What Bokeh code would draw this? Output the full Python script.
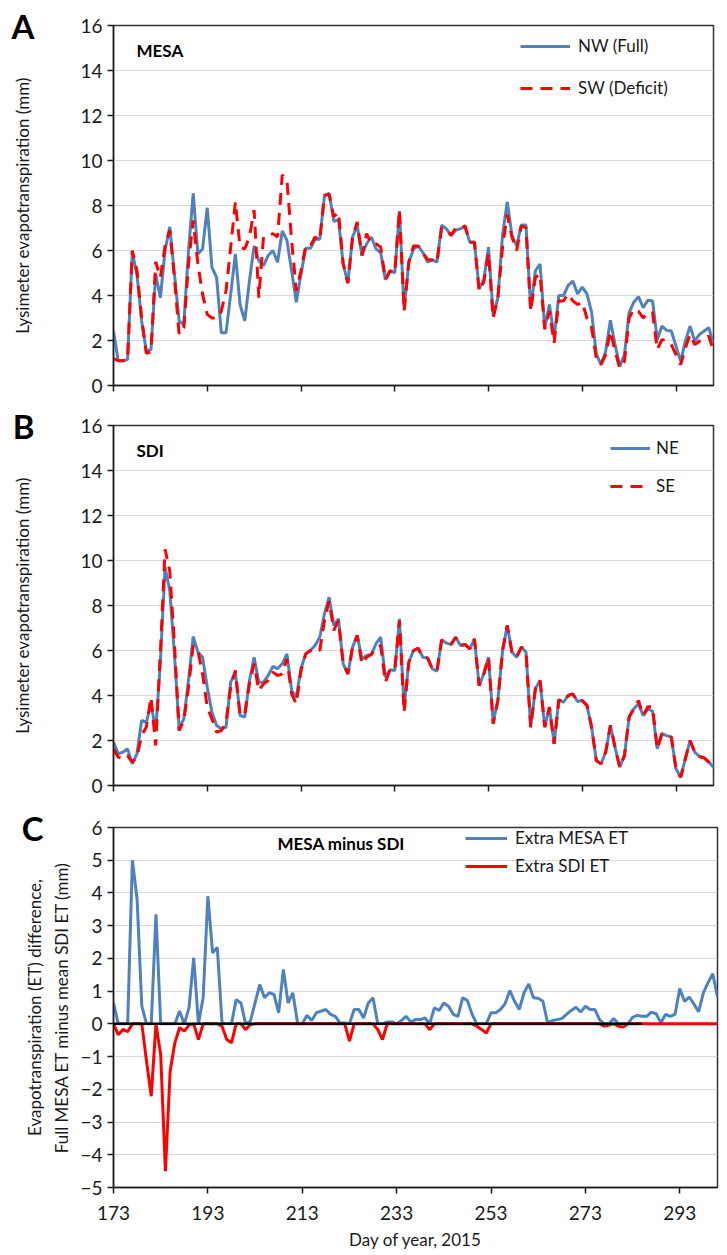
from bokeh.plotting import figure
from bokeh.models import Legend, LegendItem, Label, FixedTicker, Range1d, LinearAxis
from bokeh.layouts import column
from bokeh.embed import file_html
from bokeh.resources import INLINE

# ---------------- data ----------------
days = list(range(173, 302))          # day of year 2015
x_ticks = [173, 193, 213, 233, 253, 273, 293]
et_ticks = [0, 2, 4, 6, 8, 10, 12, 14, 16]
diff_ticks = [-5, -4, -3, -2, -1, 0, 1, 2, 3, 4, 5, 6]
zero_line_end = 285

mesa_nw_full = [
    2.42, 1.1, 1.1, 1.15, 5.9, 4.95, 2.87, 1.52, 1.6, 4.95,
    3.9, 6.0, 7.05, 4.95, 2.87, 2.7, 6.0, 8.54, 5.85, 6.07,
    7.9, 5.25, 4.8, 2.34, 2.34, 4.06, 5.85, 3.6, 2.87, 4.65,
    6.2, 5.55, 5.33, 5.78, 6.0, 5.48, 6.87, 6.45, 5.1, 3.7,
    4.95, 6.1, 6.1, 6.5, 6.5, 8.4, 8.55, 7.3, 7.36, 5.4,
    4.55, 6.6, 7.12, 5.78, 6.3, 6.6, 6.07, 5.9, 4.7, 5.1,
    5.0, 7.75, 3.4, 5.48, 6.07, 6.2, 5.9, 5.48, 5.58, 5.48,
    7.12, 6.97, 6.67, 6.9, 6.97, 7.05, 6.37, 6.37, 4.3, 4.7,
    6.15, 3.1, 3.9, 6.7, 8.16, 6.67, 6.2, 7.13, 7.13, 3.4,
    5.1, 5.4, 2.57, 3.6, 2.12, 4.0, 4.0, 4.45, 4.64, 4.07,
    4.37, 4.07, 3.25, 1.39, 0.93, 1.52, 2.9, 1.82, 0.85, 1.37,
    3.25, 3.7, 3.95, 3.46, 3.79, 3.76, 2.04, 2.64, 2.45, 2.42,
    1.75, 1.07, 1.97, 2.64, 1.97, 2.27, 2.42, 2.57, 1.82,
]
mesa_sw_deficit = [
    1.2, 1.1, 1.1, 1.15, 6.0, 5.1, 3.0, 1.43, 1.5, 5.5,
    4.8, 6.2, 6.9, 4.8, 2.27, 2.57, 5.4, 7.34, 5.4, 4.06,
    3.16, 3.0, 3.0, 3.3, 4.2, 6.15, 8.16, 6.15, 6.07, 6.6,
    7.8, 3.9, 6.6, 6.67, 6.75, 6.6, 9.36, 9.13, 6.45, 4.2,
    5.1, 6.2, 6.2, 6.6, 6.45, 8.46, 8.5, 7.5, 7.7, 5.4,
    4.55, 6.6, 7.27, 5.78, 6.75, 6.3, 6.3, 6.15, 4.7, 5.1,
    5.0, 7.8, 3.3, 5.48, 6.2, 6.2, 5.9, 5.6, 5.58, 5.48,
    7.0, 6.97, 6.67, 7.0, 6.97, 7.1, 6.37, 6.37, 4.2, 4.6,
    5.9, 3.0, 3.9, 6.15, 7.6, 6.6, 6.0, 7.1, 7.0, 3.3,
    4.8, 4.95, 2.5, 3.3, 1.9, 3.76, 3.76, 4.06, 3.76, 3.6,
    3.7, 3.0, 2.57, 1.22, 0.93, 1.37, 2.42, 1.52, 0.78, 1.07,
    3.0, 3.4, 3.3, 3.0, 3.25, 3.25, 1.6, 2.04, 2.0, 1.82,
    1.37, 0.93, 1.67, 2.27, 1.82, 1.97, 2.04, 2.2, 1.52,
]
sdi_ne = [
    1.93, 1.41, 1.48, 1.63, 0.96, 1.41, 2.89, 2.81, 3.63, 2.44,
    5.5, 9.7, 8.67, 5.85, 2.52, 2.96, 4.67, 6.62, 5.93, 5.7,
    4.37, 3.26, 2.67, 2.52, 2.59, 4.59, 5.04, 3.11, 3.04, 4.67,
    5.7, 4.59, 4.59, 4.89, 5.29, 5.19, 5.41, 5.85, 4.22, 3.93,
    5.2, 5.85, 6.0, 6.22, 6.59, 7.63, 8.37, 7.11, 7.41, 5.41,
    4.96, 6.15, 6.67, 5.63, 5.78, 5.82, 6.3, 6.59, 4.81, 5.14,
    5.11, 7.41, 3.48, 5.48, 6.0, 6.1, 5.7, 5.67, 5.19, 5.08,
    6.47, 6.33, 6.27, 6.59, 6.22, 6.27, 6.07, 6.52, 4.44, 4.96,
    5.7, 2.81, 3.78, 6.0, 7.11, 5.93, 5.7, 6.15, 5.93, 2.59,
    4.3, 4.67, 2.59, 3.48, 1.85, 3.81, 3.7, 4.0, 4.07, 3.73,
    3.78, 3.56, 2.59, 1.11, 0.96, 1.48, 2.67, 1.7, 0.81, 1.33,
    3.04, 3.41, 3.63, 3.11, 3.41, 3.3, 1.63, 2.3, 2.22, 2.15,
    0.74, 0.37, 1.19, 2.0, 1.48, 1.29, 1.23, 1.04, 0.81,
]
sdi_se = [
    1.63, 1.26, 1.19, 1.33, 1.04, 1.26, 2.22, 2.6, 3.93, 1.78,
    5.9, 10.5, 9.55, 6.3, 2.44, 2.89, 4.37, 6.22, 6.0, 4.96,
    3.48, 2.96, 2.37, 2.44, 2.81, 4.37, 5.11, 3.11, 3.19, 4.52,
    5.41, 4.22, 4.52, 4.67, 5.04, 4.89, 4.96, 5.63, 4.07, 3.63,
    5.11, 5.85, 6.0, 6.07, 6.0, 7.33, 8.2, 6.89, 7.33, 5.41,
    4.96, 6.15, 6.67, 5.41, 5.7, 5.82, 6.15, 6.22, 4.59, 5.14,
    5.11, 7.33, 3.26, 5.48, 6.0, 6.1, 5.7, 5.67, 5.19, 5.08,
    6.47, 6.33, 6.27, 6.59, 6.22, 6.27, 6.07, 6.52, 4.44, 4.96,
    5.7, 2.74, 3.78, 6.0, 7.11, 5.93, 5.7, 6.15, 5.93, 2.59,
    4.3, 4.67, 2.59, 3.48, 1.85, 3.81, 3.7, 4.0, 4.07, 3.73,
    3.78, 3.56, 2.59, 1.11, 0.96, 1.48, 2.67, 1.7, 0.81, 1.33,
    3.04, 3.41, 3.78, 3.11, 3.5, 3.5, 1.63, 2.3, 2.22, 2.15,
    0.74, 0.37, 1.19, 2.0, 1.48, 1.29, 1.23, 1.04, 0.81,
]
extra_mesa_et = [
    0.64, 0, 0, 0, 5.0, 3.8, 0.54, 0, 0, 3.35,
    0, 0, 0, 0, 0.39, 0, 0.49, 2.02, 0, 0.8,
    3.9, 2.17, 2.33, 0.03, 0, 0, 0.74, 0.64, 0, 0.08,
    0.64, 1.2, 0.8, 0.95, 0.9, 0.34, 1.66, 0.64, 0.95, 0.03,
    0, 0.26, 0.1, 0.34, 0.39, 0.44, 0.29, 0.23, 0.03, 0.03,
    0, 0.44, 0.44, 0.18, 0.64, 0.8, 0, 0, 0.06, 0.06,
    0, 0.1, 0.23, 0.06, 0.13, 0.13, 0.18, 0, 0.49, 0.41,
    0.64, 0.54, 0.29, 0.23, 0.8, 0.71, 0.29, 0, 0, 0,
    0.34, 0.34, 0.44, 0.62, 1.02, 0.69, 0.44, 0.95, 1.22, 0.8,
    0.78, 0.69, 0.03, 0.1, 0.13, 0.16, 0.29, 0.41, 0.51, 0.36,
    0.54, 0.44, 0.44, 0.13, 0, 0, 0.16, 0, 0, 0,
    0.2, 0.26, 0.23, 0.23, 0.36, 0.31, 0.03, 0.29, 0.23, 0.29,
    1.08, 0.69, 0.82, 0.61, 0.37, 0.95, 1.26, 1.53, 0.82,
]
extra_sdi_et = [
    0, -0.33, -0.17, -0.24, 0, 0, 0, -1.14, -2.21, 0,
    -0.94, -4.5, -1.45, -0.58, -0.12, -0.22, -0.04, 0, -0.48, 0,
    0, 0, 0, -0.07, -0.48, -0.58, 0, 0, -0.17, -0.02,
    0, 0, 0, 0, 0, 0, 0, 0, 0, 0,
    0, 0, 0, 0, 0, 0, 0, 0, 0, 0,
    -0.53, 0, 0, 0, 0, 0, -0.17, -0.48, 0, 0,
    0, 0, 0, 0, 0, 0, 0, -0.17, 0, 0,
    0, 0, 0, 0, 0, 0, 0, -0.07, -0.17, -0.28,
    0, 0, 0, 0, 0, 0, 0, 0, 0, 0,
    0, 0, 0, 0, 0, 0, 0, 0, 0, 0,
    0, 0, 0, 0, -0.07, -0.04, 0, -0.07, -0.1, 0,
    0, 0, 0, 0, 0, 0, 0, 0, 0, 0,
    0, 0, 0, 0, 0, 0, 0, 0, 0,
]

# ---------------- style ----------------
FONT = "Lato"
TXT = "#1a1a1a"
BLUE = "#4f81bd"
RED = "#ff0000"


def base_fig(frame_w, frame_h, left, right, top, bottom, y0, y1, yticks, show_x_labels):
    p = figure(frame_width=frame_w, frame_height=frame_h,
               min_border_left=left, min_border_right=right,
               min_border_top=top, min_border_bottom=bottom,
               x_range=Range1d(173, 301), y_range=Range1d(y0, y1),
               output_backend="svg", toolbar_location=None, tools="")
    p.background_fill_color = "white"
    p.border_fill_color = "white"
    p.outline_line_color = "#333333"
    p.outline_line_width = 1.5
    p.xgrid.visible = False
    p.ygrid.grid_line_color = "#d9d9d9"
    p.ygrid.grid_line_width = 1.2
    for ax in (p.xaxis[0], p.yaxis[0]):
        ax.axis_line_color = TXT
        ax.axis_line_width = 1.5
        ax.major_tick_line_color = TXT
        ax.major_tick_line_width = 1.5
        ax.major_tick_in = 0
        ax.major_tick_out = 6
        ax.minor_tick_line_color = None
        ax.major_label_text_font = FONT
        ax.major_label_text_font_size = "19px"
        ax.major_label_text_color = TXT
        ax.axis_label_text_font = FONT
        ax.axis_label_text_font_style = "normal"
        ax.axis_label_text_font_size = "17px"
        ax.axis_label_text_color = TXT
    p.xaxis.ticker = FixedTicker(ticks=x_ticks)
    p.yaxis.ticker = FixedTicker(ticks=yticks)
    p.ygrid.ticker = FixedTicker(ticks=yticks)
    if not show_x_labels:
        p.xaxis.major_label_overrides = {t: "" for t in x_ticks}
        p.xaxis.major_label_text_font_size = "0px"
        p.xaxis.major_label_standoff = 0
    return p


def add_legend(p, items, vx, vy, spacing, glyph_w=40, standoff=6):
    lg = Legend(items=items, location=(vx, vy))
    lg.background_fill_alpha = 0
    lg.border_line_alpha = 0
    lg.glyph_width = glyph_w
    lg.glyph_height = 20
    lg.label_height = 20
    lg.label_standoff = standoff
    lg.spacing = spacing
    lg.padding = 0
    lg.margin = 0
    lg.label_text_font = FONT
    lg.label_text_font_size = "17px"
    lg.label_text_color = TXT
    p.add_layout(lg)


def corner_letter(p, text, standoff):
    # an extra (outermost) left axis whose only tick label is the panel letter
    p.extra_y_ranges = {"letter": Range1d(0, 1)}
    ax = LinearAxis(y_range_name="letter", ticker=FixedTicker(ticks=[1]),
                    major_label_overrides={1: text})
    ax.axis_line_color = None
    ax.major_tick_line_color = None
    ax.minor_tick_line_color = None
    ax.major_tick_in = 0
    ax.major_tick_out = 0
    ax.major_label_standoff = standoff
    ax.major_label_text_font = FONT
    ax.major_label_text_font_size = "33px"
    ax.major_label_text_font_style = "bold"
    ax.major_label_text_color = "black"
    p.add_layout(ax, "left")


def inner_label(p, text, x, y):
    p.add_layout(Label(x=x, y=y, x_units="screen", y_units="screen", text=text,
                       text_font=FONT, text_font_size="17px", text_font_style="bold",
                       text_color="black", text_align="left", text_baseline="middle"))


# ---------------- panel A ----------------
pa = base_fig(600, 360, 113, 14, 25, 20, 0, 16, et_ticks, False)
pa.yaxis[0].axis_label = "Lysimeter evapotranspiration (mm)"
pa.yaxis[0].axis_label_standoff = 44
ra1 = pa.line(days, mesa_nw_full, line_color=BLUE, line_width=3)
ra2 = pa.line(days, mesa_sw_deficit, line_color=RED, line_width=3, line_dash="12 8")
add_legend(pa, [LegendItem(label="NW (Full)", renderers=[ra1]),
                LegendItem(label="SW (Deficit)", renderers=[ra2])], 407, 287, 21,
           glyph_w=50, standoff=8)
corner_letter(pa, "A", -25)
inner_label(pa, "MESA", 23, 335)

# ---------------- panel B ----------------
pb = base_fig(600, 360, 113, 14, 20, 21, 0, 16, et_ticks, False)
pb.yaxis[0].axis_label = "Lysimeter evapotranspiration (mm)"
pb.yaxis[0].axis_label_standoff = 44
rb1 = pb.line(days, sdi_ne, line_color=BLUE, line_width=3)
rb2 = pb.line(days, sdi_se, line_color=RED, line_width=3, line_dash="12 8")
add_legend(pb, [LegendItem(label="NE", renderers=[rb1]),
                LegendItem(label="SE", renderers=[rb2])], 497, 289, 17)
corner_letter(pb, "B", -25)
inner_label(pb, "SDI", 23, 335)

# ---------------- panel C ----------------
pc = base_fig(604, 360, 108, 15, 21, 68, -5, 6, diff_ticks, True)
pc.yaxis[0].axis_label = "Evapotranspiration (ET) difference,\nFull MESA ET minus mean SDI ET (mm)"
pc.yaxis[0].axis_label_standoff = 5
pc.yaxis[0].axis_label_text_line_height = 1.3
pc.xaxis[0].axis_label = "Day of year, 2015"
pc.xaxis[0].major_label_standoff = 12
pc.xaxis[0].axis_label_standoff = 6
rc1 = pc.line(days, extra_mesa_et, line_color=BLUE, line_width=3)
rc2 = pc.line(days, extra_sdi_et, line_color=RED, line_width=3)
zdays = [d for d in days if d <= zero_line_end]
pc.line(zdays, [0] * len(zdays), line_color="black", line_width=2.5)
add_legend(pc, [LegendItem(label="Extra MESA ET", renderers=[rc1]),
                LegendItem(label="Extra SDI ET", renderers=[rc2])], 352, 311, 7,
           glyph_w=42, standoff=8)
corner_letter(pc, "C", -22)
inner_label(pc, "MESA minus SDI", 164, 344)

layout = column(pa, pb, pc, spacing=0)
open("out.html", "w").write(file_html(layout, INLINE))
